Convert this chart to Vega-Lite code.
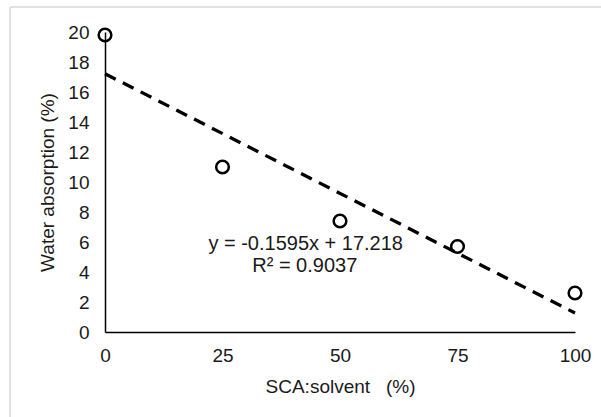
{
  "$schema": "https://vega.github.io/schema/vega-lite/v6.json",
  "width": 470,
  "height": 300,
  "autosize": {"type": "none"},
  "padding": {"left": 105, "top": 32, "right": 26, "bottom": 85},
  "background": "white",
  "config": {
    "view": {"stroke": null},
    "font": "Liberation Sans",
    "axis": {"grid": false, "ticks": false, "labelFont": "Liberation Sans", "titleFont": "Liberation Sans", "labelFontSize": 19, "titleFontSize": 19, "titleFontWeight": "normal", "labelColor": "#1a1a1a", "titleColor": "#1a1a1a", "domainColor": "black", "domainWidth": 1.5, "labelFlush": false}
  },
  "datasets": {
    "points": [
      {"ratio": 0, "absorption": 19.8},
      {"ratio": 25, "absorption": 11.0},
      {"ratio": 50, "absorption": 7.4},
      {"ratio": 75, "absorption": 5.7},
      {"ratio": 100, "absorption": 2.6}
    ],
    "trend": [
      {"ratio": 0, "absorption": 17.218},
      {"ratio": 100, "absorption": 1.268}
    ],
    "labels": [
      {"ratio": 42.7, "absorption": 5.87, "text": "y = -0.1595x + 17.218"},
      {"ratio": 42.5, "absorption": 4.37, "text": "R² = 0.9037"}
    ],
    "frame": [
      {"ratio": -20.2, "absorption": 21.67, "ratio2": -20.2, "absorption2": -6.5},
      {"ratio": -20.2, "absorption": 21.67, "ratio2": 107, "absorption2": 21.67}
    ]
  },
  "encoding": {
    "x": {"field": "ratio", "type": "quantitative", "scale": {"domain": [0, 100]}, "axis": {"values": [0, 25, 50, 75, 100], "title": "SCA:solvent\u00a0\u00a0 (%)", "labelPadding": 14, "titlePadding": 12, "labelOverlap": false}},
    "y": {"field": "absorption", "type": "quantitative", "scale": {"domain": [0, 20]}, "axis": {"values": [0, 2, 4, 6, 8, 10, 12, 14, 16, 18, 20], "tickCount": 11, "title": "Water absorption (%)", "labelPadding": 16, "titlePadding": 10, "labelOverlap": false, "labelSeparation": -10}}
  },
  "layer": [
    {
      "data": {"name": "frame"},
      "mark": {"type": "rule", "color": "#d9d9d9", "strokeWidth": 1.5, "clip": false},
      "encoding": {
        "x2": {"field": "ratio2"},
        "y2": {"field": "absorption2"}
      }
    },
    {
      "data": {"name": "trend"},
      "mark": {"type": "line", "color": "black", "strokeWidth": 3.3, "strokeDash": [12, 8]}
    },
    {
      "data": {"name": "points"},
      "mark": {"type": "point", "shape": "circle", "size": 160, "filled": false, "color": "black", "strokeWidth": 2.5, "opacity": 1}
    },
    {
      "data": {"name": "labels"},
      "mark": {"type": "text", "fontSize": 20, "color": "#1a1a1a", "align": "center", "baseline": "middle"},
      "encoding": {
        "text": {"field": "text"}
      }
    }
  ]
}
